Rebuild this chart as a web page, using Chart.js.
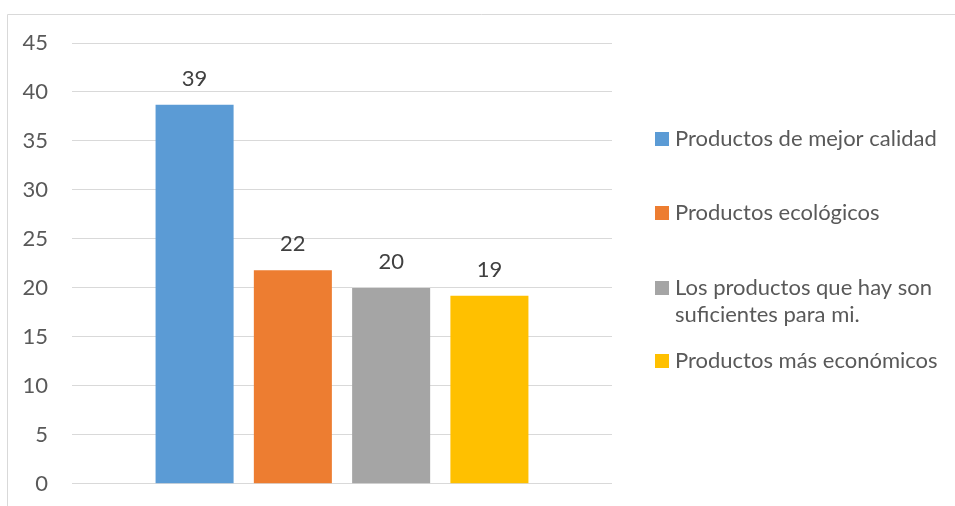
<!DOCTYPE html>
<html>
<head>
<meta charset="utf-8">
<script src="https://cdn.jsdelivr.net/npm/chart.js@4.4.0/dist/chart.umd.min.js"></script>
<style>
  html, body { margin: 0; padding: 0; background: #fff; overflow: hidden; }
  #wrap { width: 955px; height: 506px; position: relative; overflow: hidden; }
  canvas { display: block; }
</style>
</head>
<body>
<div id="wrap"><canvas id="myChart" width="955" height="521"></canvas></div>
<script>
// data
const seriesNames = ['Productos de mejor calidad', 'Productos ecológicos', 'Los productos que hay son suficientes para mi.', 'Productos más económicos'];
const legendLines = [['Productos de mejor calidad'], ['Productos ecológicos'], ['Los productos que hay son', 'suficientes para mi.'], ['Productos más económicos']];
const seriesValues = [38.7, 21.8, 20.0, 19.2];
const seriesColors = ['#5B9BD5', '#ED7D31', '#A5A5A5', '#FFC000'];
const yMax = 45;
const yStep = 5;

const FONT = 'Lato, "Open Sans", sans-serif';

const datasets = seriesNames.map((name, i) => ({
  label: name,
  data: [seriesValues[i]],
  backgroundColor: seriesColors[i],
  borderWidth: 0
}));

// outer frame like the office chart box (bottom edge falls outside the view)
const framePlugin = {
  id: 'frame',
  beforeDraw(chart) {
    const ctx = chart.ctx;
    ctx.save();
    ctx.strokeStyle = '#d9d9d9';
    ctx.lineWidth = 1;
    ctx.beginPath();
    ctx.moveTo(7.5, 530);
    ctx.lineTo(7.5, 14.5);
    ctx.lineTo(960, 14.5);
    ctx.stroke();
    ctx.restore();
  }
};

// value labels above bars
const valueLabels = {
  id: 'valueLabels',
  afterDatasetsDraw(chart) {
    const ctx = chart.ctx;
    ctx.save();
    ctx.font = '22px ' + FONT;
    ctx.fillStyle = '#404040';
    ctx.textAlign = 'center';
    ctx.textBaseline = 'middle';
    chart.data.datasets.forEach((ds, i) => {
      const bar = chart.getDatasetMeta(i).data[0];
      ctx.fillText(Math.round(ds.data[0]), bar.x, bar.y - 26);
    });
    ctx.restore();
  }
};

// legend on the right, drawn by hand to allow wrapped text
const sideLegend = {
  id: 'sideLegend',
  afterDraw(chart) {
    const ctx = chart.ctx;
    const rowY = [139, 213, 288, 361];
    ctx.save();
    ctx.font = '22px ' + FONT;
    ctx.textBaseline = 'middle';
    ctx.textAlign = 'left';
    legendLines.forEach((lines, i) => {
      ctx.fillStyle = seriesColors[i];
      ctx.fillRect(655, rowY[i] - 7, 14, 14);
      ctx.fillStyle = '#595959';
      lines.forEach((t, j) => {
        ctx.fillText(t, 675, rowY[i] + j * 27);
      });
    });
    ctx.restore();
  }
};

new Chart('myChart', {
  type: 'bar',
  data: {
    labels: [''],
    datasets: datasets
  },
  options: {
    responsive: false,
    animation: false,
    layout: { padding: { left: 0, right: 343, top: 43, bottom: 7 } },
    categoryPercentage: 0.728,
    barPercentage: 0.794,
    plugins: {
      legend: { display: false },
      tooltip: { enabled: false }
    },
    scales: {
      x: { display: false },
      y: {
        min: 0,
        max: yMax,
        border: { display: false },
        grid: { color: '#d9d9d9', lineWidth: 1, drawTicks: false },
        ticks: {
          stepSize: yStep,
          padding: 24,
          color: '#595959',
          font: { family: FONT, size: 22 }
        },
        afterFit(scale) { scale.width = 72; }
      }
    }
  },
  plugins: [framePlugin, valueLabels, sideLegend]
});
</script>
</body>
</html>
